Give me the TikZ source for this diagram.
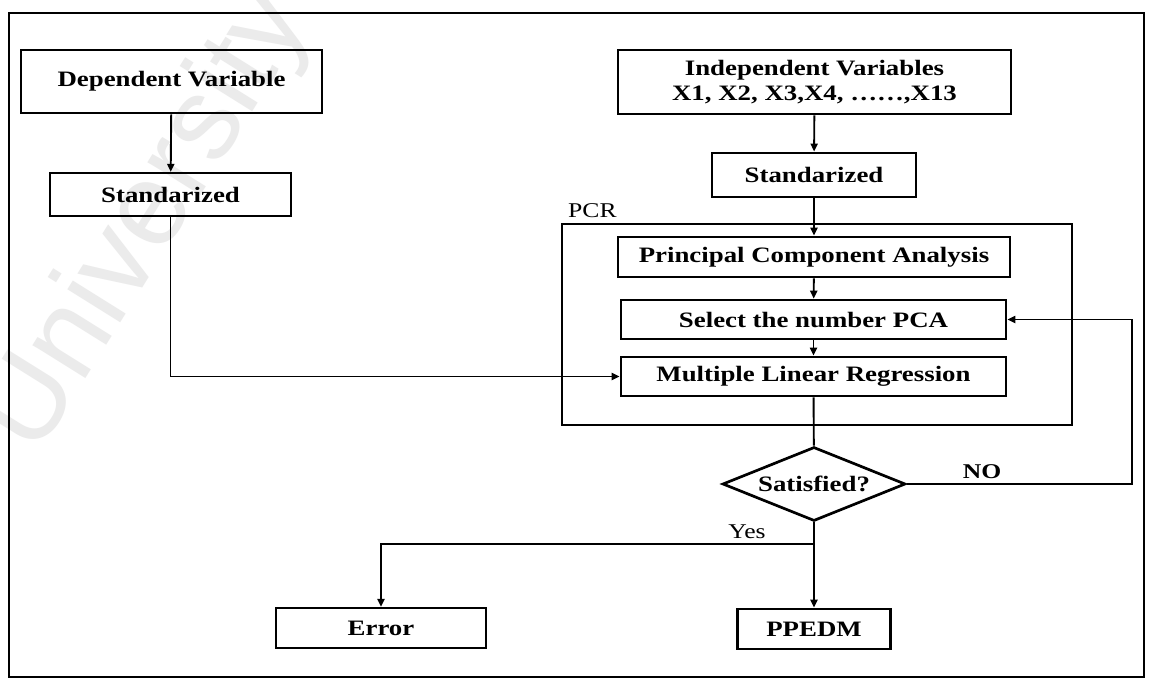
\documentclass[tikz,border=0pt]{standalone}
\usepackage{fontspec}
\setmainfont{Liberation Serif}
\newfontfamily\boxfont[FakeStretch=1.22]{Liberation Serif}
\newfontfamily\markfont{Liberation Sans}
\usetikzlibrary{arrows.meta,shapes.geometric}
\begin{document}
\begin{tikzpicture}[x=1pt,y=-1pt,
  box/.style={draw, line width=2.7pt, inner sep=0pt, anchor=center,
    font=\boxfont\bfseries\fontsize{22}{25}\selectfont, align=center},
  thinbox/.style={box, line width=2.2pt},
  conn/.style={line width=1.9pt},
  arr/.style={conn, -{Triangle[length=8pt,width=7pt]}},
  lbl/.style={font=\boxfont\fontsize{21}{24}\selectfont, inner sep=0pt}]
\useasboundingbox (0,0) rectangle (1154,683);
\fill[white] (0,0) rectangle (1154,683);
% faint stamp behind the chart
\begin{scope}
\clip (0,0) rectangle (1154,683);
\node[text=black!8, rotate=58, font=\markfont\fontsize{118}{118}\selectfont]
  (mark) at (148,222) {University};
\end{scope}
% outer frame
\draw[line width=2pt] (9,13) rectangle (1144,677);
% PCR group
\draw[line width=2.2pt] (562,224) rectangle (1072,425);
\node[lbl, anchor=west] (pcr) at (568,211) {PCR};
% left column
\node[box, minimum width=301pt, minimum height=63pt] (dep) at (171.5,81.5) {Dependent Variable};
\node[thinbox, minimum width=241pt, minimum height=43pt] (stdl) at (170.5,194.5) {Standarized};
% right column
\node[box, minimum width=393pt, minimum height=64pt] (ind) at (814.5,82)
  {Independent Variables\\X1, X2, X3,X4, \dots\dots,X13};
\node[box, minimum width=204pt, minimum height=44pt] (stdr) at (814,175) {Standarized};
\node[box, minimum width=392pt, minimum height=40pt] (pca) at (814,257) {Principal Component Analysis};
\node[box, minimum width=385pt, minimum height=39pt] (sel) at (813.5,319.5) {Select the number PCA};
\node[box, minimum width=385pt, minimum height=39pt] (mlr) at (813.5,376.5) {Multiple Linear Regression};
\node[box, shape=diamond, aspect=2.47, minimum width=183pt, minimum height=74pt] (sat) at (814,484) {Satisfied?};
\node[box, minimum width=153pt, minimum height=40pt] (ppedm) at (814,629) {PPEDM};
\node[thinbox, minimum width=210pt, minimum height=40pt] (err) at (381,628) {Error};
\coordinate (loop) at (1132,484);
\coordinate (split) at (814,544);
% connectors
\draw[arr] (dep) -- (stdl);
\draw[arr] (stdl.south) |- (mlr.west);
\draw[arr] (ind) -- (stdr);
\draw[arr] (stdr) -- (pca);
\draw[arr] (pca) -- (sel);
\draw[arr] (sel) -- (mlr);
\draw[conn] (mlr) -- (sat);
\draw[arr] (sat.east) -- (loop) |- (sel.east);
\draw[arr] (sat.south) -- (ppedm.north);
\draw[arr] (split) -| (err.north);
\node[lbl, font=\boxfont\bfseries\fontsize{21}{24}\selectfont] (no) at (982,472) {NO};
\node[lbl] (yes) at (747,532) {Yes};
\end{tikzpicture}
\end{document}
